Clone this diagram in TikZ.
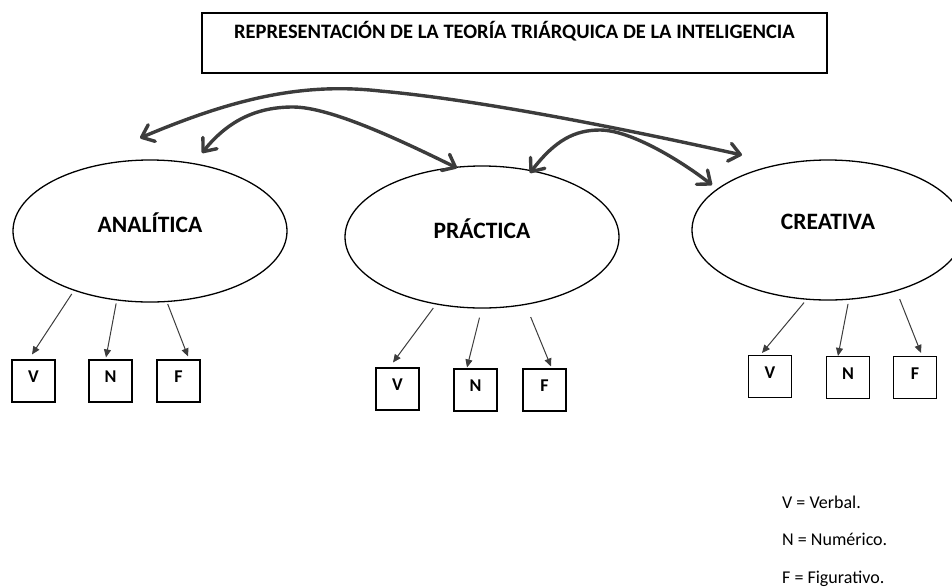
\documentclass[tikz,border=0pt]{standalone}
\usepackage{fontspec}
\setmainfont{Carlito}
\usetikzlibrary{shapes.geometric,arrows.meta}
\definecolor{arrowgray}{HTML}{3C3C3C}
\tikzset{
  elli/.style={ellipse, draw=black, line width=1.3pt, minimum width=274pt, minimum height=142pt, inner sep=0pt,
    font=\bfseries\fontsize{23.5}{23.5}\selectfont, text height=15pt, text depth=0pt},
  lettbox/.style={rectangle, draw=black, line width=1.1pt, minimum width=43pt, minimum height=42pt, inner sep=0pt,
    font=\bfseries\fontsize{18}{18}\selectfont, text height=11.6pt, text depth=0pt},
  titlebox/.style={rectangle, draw=black, line width=1.2pt, minimum width=625pt, minimum height=60pt, inner sep=0pt,
    font=\bfseries\fontsize{20.5}{20.5}\selectfont, text height=13.2pt, text depth=0pt},
  bigarrow/.style={draw=arrowgray, line width=3.4pt, line cap=round,
    {Straight Barb[length=11pt,width=18pt,line cap=round,line join=round]}-{Straight Barb[length=11pt,width=18pt,line cap=round,line join=round]}},
  smallarrow/.style={draw=arrowgray, line width=1pt, -{Triangle[length=8pt,width=7pt]}},
  legend/.style={anchor=base west, inner sep=0pt, font=\fontsize{18}{18}\selectfont}
}
\begin{document}
\begin{tikzpicture}[x=1pt,y=-1pt]
\useasboundingbox (0,0) rectangle (952,587);
\clip (0,0) rectangle (952,587);

% title
\node[titlebox] (title) at (514.5,43) {\raisebox{11pt}{REPRESENTACIÓN DE LA TEORÍA TRIÁRQUICA DE LA INTELIGENCIA}};

% ellipses
\node[elli] (ana) at (150,231) {\raisebox{6pt}{ANALÍTICA}};
\node[elli] (pra) at (482,237) {\raisebox{6pt}{PRÁCTICA}};
\node[elli, minimum width=272pt, minimum height=140pt] (cre) at (828,230) {\raisebox{8pt}{CREATIVA}};

% boxes
\node[lettbox] (av) at (33.5,381) {\raisebox{4pt}{V}};
\node[lettbox] (an) at (110.5,381) {\raisebox{4pt}{N}};
\node[lettbox] (af) at (178.5,381) {\raisebox{4pt}{F}};
\node[lettbox] (pv) at (397.5,389) {\raisebox{4pt}{V}};
\node[lettbox] (pn) at (475.5,390) {\raisebox{4pt}{N}};
\node[lettbox] (pf) at (544.5,390) {\raisebox{4pt}{F}};
\node[lettbox] (cv) at (770,376.5) {\raisebox{4pt}{V}};
\node[lettbox] (cn) at (848,377.5) {\raisebox{4pt}{N}};
\node[lettbox] (cf) at (915,377.5) {\raisebox{4pt}{F}};

% small arrows
\draw[smallarrow] ([yshift=-4pt]ana.217) -- ([xshift=-1.5pt,yshift=5pt]av.north);
\draw[smallarrow] ([yshift=-3pt]ana.244) -- ([xshift=-4.5pt,yshift=2pt]an.north);
\draw[smallarrow] ([yshift=-2pt]ana.284) -- ([xshift=9.5pt,yshift=3pt]af.north);
\draw[smallarrow] ([yshift=-4pt]pra.234) -- ([xshift=-4.5pt,yshift=5pt]pv.north);
\draw[smallarrow] ([yshift=-9pt]pra.268) -- ([xshift=-8.5pt,yshift=1pt]pn.north);
\draw[smallarrow] ([yshift=-13pt]pra.306) -- ([xshift=6.5pt,yshift=2pt]pf.north);
\draw[smallarrow] ([yshift=-3pt]cre.251) -- ([xshift=-8pt,yshift=2pt]cv.north);
\draw[smallarrow] ([yshift=-4pt]cre.286) -- ([xshift=-10pt,yshift=0pt]cn.north);
\draw[smallarrow] ([yshift=-9pt]cre.320) -- ([xshift=6pt,yshift=3pt]cf.north);

% big curved arrows
\coordinate (l1) at (140,138);
\coordinate (r1) at (742,155);
\coordinate (l2) at (202,153);
\coordinate (r2) at (457,168);
\coordinate (l3) at (530,173);
\coordinate (r3) at (712,185);
\draw[bigarrow] (l1) .. controls (230,100) and (300,82) .. (380,91) .. controls (480,100) and (620,128) .. (r1);
\draw[bigarrow] (l2) .. controls (230,118) and (260,107) .. (293,107) .. controls (330,107) and (400,140) .. (r2);
\draw[bigarrow] (l3) .. controls (555,140) and (575,130) .. (600,130) .. controls (630,130) and (680,160) .. (r3);

% legend
\node[legend] (lv) at (782,508) {V = Verbal.};
\node[legend] (ln) at (782,545) {N = Numérico.};
\node[legend] (lf) at (782,583) {F = Figurativo.};
\end{tikzpicture}
\end{document}
